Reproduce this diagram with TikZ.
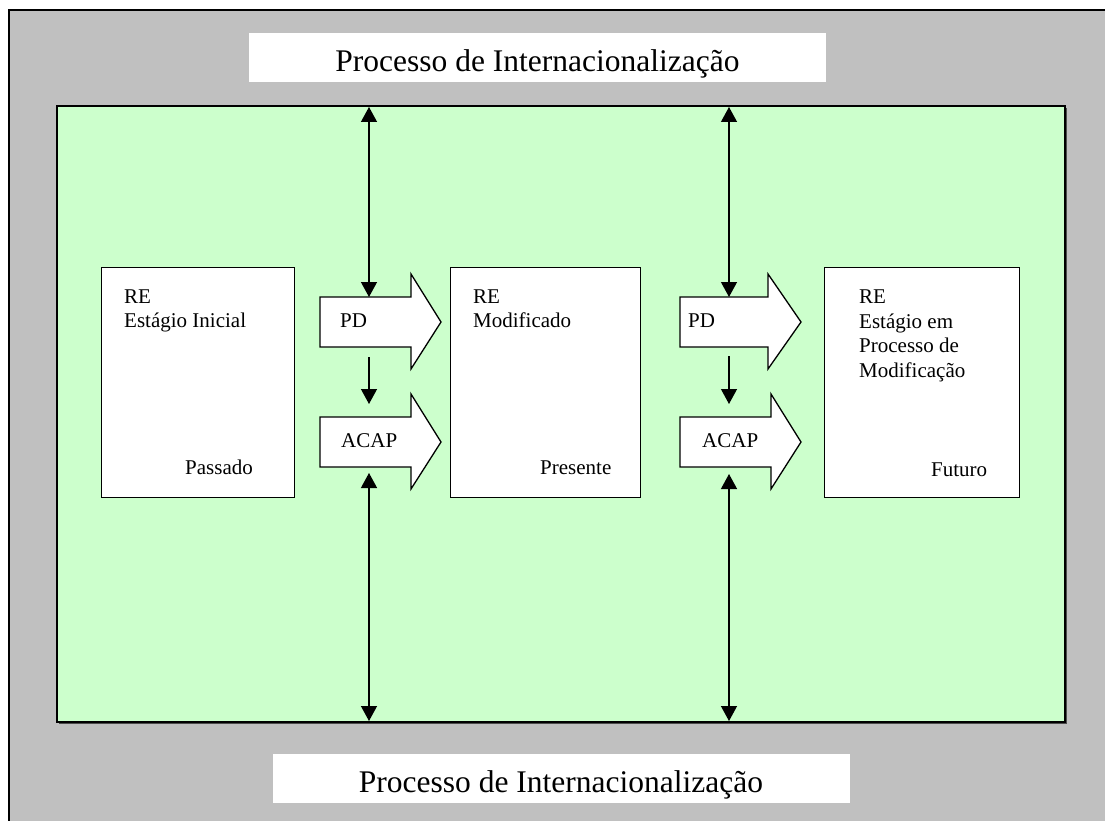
\documentclass[tikz,border=0pt]{standalone}
\usepackage{fontspec}
\setmainfont{Liberation Serif}
\usetikzlibrary{arrows.meta}
\definecolor{bggray}{HTML}{C0C0C0}
\definecolor{lightgreen}{HTML}{CCFFCC}
\begin{document}
\begin{tikzpicture}[x=1pt,y=-1pt,
  txt/.style={anchor=base west, inner sep=0pt, font=\fontsize{21}{24.5}\selectfont},
  ttl/.style={anchor=base, inner sep=0pt, font=\fontsize{31.5}{36}\selectfont},
  titlebox/.style={fill=white, anchor=north west, inner sep=0pt, minimum width=577pt, minimum height=49pt},
  rebox/.style={draw=black, line width=1.3pt, fill=white, anchor=north west, inner sep=0pt},
  blockarrow/.style={draw=black, line width=1.3pt, fill=white, line join=miter},
  dbl/.style={line width=1.3pt, {Triangle[width=16pt,length=15pt]}-{Triangle[width=16pt,length=15pt]}},
  sgl/.style={line width=1.3pt, -{Triangle[width=16pt,length=15pt]}}]
\useasboundingbox (0,0) rectangle (1105,821);
\clip (0,0) rectangle (1105,821);
% outer frame
\draw[fill=bggray, line width=1.3pt] (9,10) rectangle (1115,835);
% titles
\node[titlebox] (ttop) at (249,33) {};
\node[ttl] (ttoptext) at (537.5,72) {Processo de Internacionalização};
\node[titlebox] (tbot) at (273,754) {};
\node[ttl] (tbottext) at (561,792) {Processo de Internacionalização};
% green area with shadow
\draw[gray!60!black, line width=1pt] (1066.5,108) -- (1066.5,723.5) -- (59,723.5);
\draw[fill=lightgreen, line width=1.6pt] (57,106) rectangle (1065,722);
\coordinate (gtopL) at (369,107);
\coordinate (gbotL) at (369,721);
\coordinate (gtopR) at (729,107);
\coordinate (gbotR) at (729,721);
% RE boxes
\node[rebox, minimum width=193pt, minimum height=230pt] (boxL) at (101,267) {};
\node[rebox, minimum width=190pt, minimum height=230pt] (boxM) at (450,267) {};
\node[rebox, minimum width=195pt, minimum height=230pt] (boxR) at (824,267) {};
\node[txt] (l1) at (124,303) {RE};
\node[txt] (l2) at (124,327.5) {Estágio Inicial};
\node[txt] (l3) at (185,474) {Passado};
\node[txt] (m1) at (473,303) {RE};
\node[txt] (m2) at (473,327.5) {Modificado};
\node[txt] (m3) at (540,474) {Presente};
\node[txt] (r1) at (859,303) {RE};
\node[txt] (r2) at (859,328) {Estágio em};
\node[txt] (r3) at (859,352.5) {Processo de};
\node[txt] (r4) at (859,377) {Modificação};
\node[txt] (r5) at (931,476) {Futuro};
% block arrows left
\draw[blockarrow] (320,297) -- (411,297) -- (411,274) -- (441,322) -- (411,369) -- (411,347) -- (320,347) -- cycle;
\coordinate (pdLtop) at (369,297);
\coordinate (pdLbot) at (369,357);
\node[txt] (pdL) at (340,327) {PD};
\draw[blockarrow] (320,417) -- (411,417) -- (411,394) -- (441,442) -- (411,489) -- (411,467) -- (320,467) -- cycle;
\coordinate (acLtop) at (369,404);
\coordinate (acLbot) at (369,473);
\node[txt] (acL) at (341,447) {ACAP};
% block arrows right
\draw[blockarrow] (680,297) -- (768,297) -- (768,274) -- (801,322) -- (768,369) -- (768,347) -- (680,347) -- cycle;
\coordinate (pdRtop) at (729,297);
\coordinate (pdRbot) at (729,356);
\node[txt] (pdR) at (688,327) {PD};
\draw[blockarrow] (680,417) -- (771,417) -- (771,394) -- (801,442) -- (771,489) -- (771,467) -- (680,467) -- cycle;
\coordinate (acRtop) at (729,404);
\coordinate (acRbot) at (729,474);
\node[txt] (acR) at (702,447) {ACAP};
% vertical arrows
\draw[dbl] (gtopL) -- (pdLtop);
\draw[sgl] (pdLbot) -- (acLtop);
\draw[dbl] (acLbot) -- (gbotL);
\draw[dbl] (gtopR) -- (pdRtop);
\draw[sgl] (pdRbot) -- (acRtop);
\draw[dbl] (acRbot) -- (gbotR);
\end{tikzpicture}
\end{document}
